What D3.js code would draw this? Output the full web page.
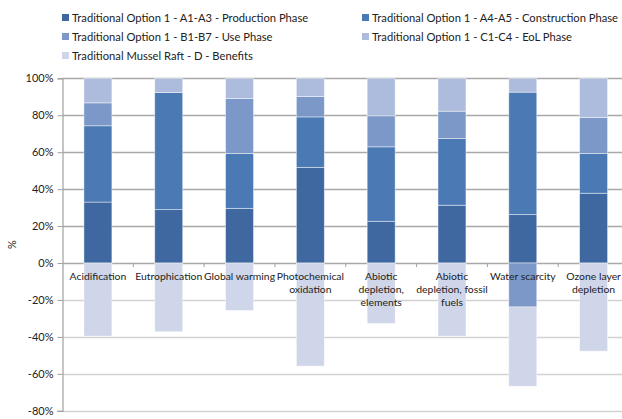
<!DOCTYPE html>
<html>
<head>
<meta charset="utf-8">
<script src="https://cdn.jsdelivr.net/npm/d3@7/dist/d3.min.js"></script>
<style>
  html, body { margin: 0; padding: 0; background: #fff; }
  svg { display: block; font-family: Lato, "DejaVu Sans", sans-serif; }
</style>
</head>
<body>
<svg id="chart" width="622" height="419"></svg>
<script>
// Impact categories (x axis), with manual line breaks
const categories = [
  ["Acidification"],
  ["Eutrophication"],
  ["Global warming"],
  ["Photochemical", "oxidation"],
  ["Abiotic", "depletion,", "elements"],
  ["Abiotic", "depletion, fossil", "fuels"],
  ["Water scarcity"],
  ["Ozone layer", "depletion"]
];

// Series names
const seriesNames = [
  "Traditional Option 1 - A1-A3 - Production Phase",
  "Traditional Option 1 - A4-A5 - Construction Phase",
  "Traditional Option 1 - B1-B7 - Use Phase",
  "Traditional Option 1 - C1-C4 - EoL Phase",
  "Traditional Mussel Raft - D - Benefits"
];

// Share of each phase per category, in percent
const productionA1A3   = [33.0, 28.9, 29.6, 51.8, 22.6, 31.3, 26.2, 37.8];
const constructionA4A5 = [41.3, 63.4, 29.7, 27.3, 40.3, 36.1, 66.3, 21.5];
const useB1B7          = [12.4,  0.0, 29.8, 11.1, 16.8, 14.8, -23.8, 19.5];
const eolC1C4          = [13.3,  7.7, 10.9,  9.8, 20.3, 17.8,  7.5, 21.2];
const benefitsD        = [-39.6, -37.2, -25.7, -55.8, -32.7, -39.6, -42.9, -47.7];

const yTicks = [100, 80, 60, 40, 20, 0, -20, -40, -60, -80];

const colors = ["#3f68a0", "#4a79b4", "#7b98c8", "#adbcdd", "#cfd6e9"];
const seriesValues = [productionA1A3, constructionA4A5, useB1B7, eolC1C4, benefitsD];

const svg = d3.select("#chart");

const x = d3.scaleBand()
  .domain(d3.range(categories.length))
  .range([62.5, 629])
  .paddingInner(0.605)
  .paddingOuter(0.3025);

const y = d3.scaleLinear().domain([-80, 100]).range([410.8, 78.3]);

// Gridlines
svg.append("g")
  .selectAll("line")
  .data(yTicks)
  .join("line")
  .attr("x1", 62.5).attr("x2", 622)
  .attr("y1", d => Math.round(y(d)) + 0.5).attr("y2", d => Math.round(y(d)) + 0.5)
  .attr("stroke", d => d >= 0 ? "#a8a8a8" : "#d2d2d2")
  .attr("stroke-width", 1.6);

// Stacked bars: positive and negative parts stacked separately
const rows = categories.map((c, i) => {
  let pos = 0, neg = 0;
  return seriesValues.map((s, k) => {
    const v = s[i];
    let y0, y1;
    if (v >= 0) { y0 = pos; y1 = pos + v; pos = y1; }
    else { y0 = neg; y1 = neg + v; neg = y1; }
    return { i, k, y0, y1, v };
  });
}).flat().filter(d => d.v !== 0);

svg.append("g")
  .selectAll("rect")
  .data(rows)
  .join("rect")
  .attr("x", d => x(d.i))
  .attr("width", x.bandwidth())
  .attr("y", d => y(Math.max(d.y0, d.y1)))
  .attr("height", d => Math.abs(y(d.y0) - y(d.y1)))
  .attr("fill", d => colors[d.k])
  .attr("stroke", "rgba(255,255,255,0.55)")
  .attr("stroke-width", 0.8);

// Y axis
const yAxis = svg.append("g")
  .attr("transform", "translate(62.5,0)")
  .call(d3.axisLeft(y).tickValues(yTicks).tickSize(5).tickPadding(4).tickFormat(d => d + "%"));
yAxis.select(".domain").attr("stroke", "#a0a0a0").attr("stroke-width", 1.2);
yAxis.selectAll(".tick line").attr("stroke", "#a0a0a0");
yAxis.selectAll("text").attr("font-size", 11).attr("fill", "#222")
  .attr("font-family", "Lato, sans-serif");

// Category ticks on the zero line
const step = x.step();
svg.append("g")
  .selectAll("line")
  .data(d3.range(1, categories.length + 1))
  .join("line")
  .attr("x1", d => 62.5 + d * step).attr("x2", d => 62.5 + d * step)
  .attr("y1", y(0)).attr("y2", y(0) + 4)
  .attr("stroke", "#a0a0a0");

// Category labels
const labels = svg.append("g")
  .selectAll("text")
  .data(categories)
  .join("text")
  .attr("text-anchor", "middle")
  .attr("font-size", 10.4)
  .attr("fill", "#222")
  .attr("transform", (d, i) => `translate(${x(i) + x.bandwidth() / 2},${y(0) + 17})`);
labels.selectAll("tspan")
  .data(d => d)
  .join("tspan")
  .attr("x", 0)
  .attr("dy", (d, j) => j === 0 ? 0 : 12.8)
  .text(d => d);

// Y axis title
svg.append("text")
  .attr("transform", `translate(16,${y(10)}) rotate(-90)`)
  .attr("text-anchor", "middle")
  .attr("font-size", 11)
  .attr("fill", "#222")
  .text("%");

// Legend
const legendPos = [[62, 18], [362, 18], [62, 37], [362, 37], [62, 56]];
const legend = svg.append("g")
  .selectAll("g")
  .data(seriesNames)
  .join("g")
  .attr("transform", (d, i) => `translate(${legendPos[i][0]},${legendPos[i][1]})`);
legend.append("rect")
  .attr("x", 0).attr("y", -4)
  .attr("width", 7).attr("height", 7)
  .attr("fill", (d, i) => colors[i]);
legend.append("text")
  .attr("x", 10).attr("y", 0)
  .attr("dy", "0.35em")
  .attr("font-size", 11.2)
  .attr("fill", "#222")
  .text(d => d);
</script>
</body>
</html>
